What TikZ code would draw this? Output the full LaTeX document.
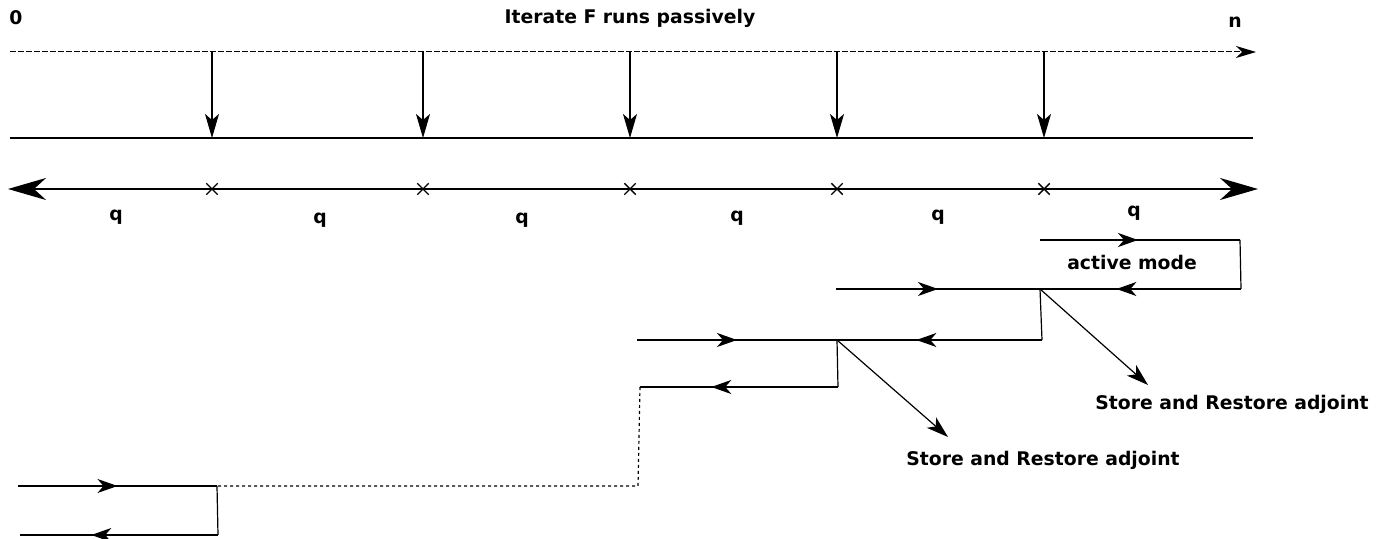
\documentclass[tikz,border=0pt]{standalone}
\usepackage{fontspec}
\setmainfont{DejaVu Sans}
\usetikzlibrary{arrows.meta,decorations.markings,shapes.misc}

\begin{document}
\begin{tikzpicture}[x=0.5pt, y=-0.5pt,
  lbl/.style={font=\fontsize{9.4}{11}\selectfont\bfseries, inner sep=0pt},
  tick/.style={draw, cross out, minimum size=5pt, inner sep=0pt, line width=0.7pt},
  flow/.style={line width=0.6pt},
  back/.style={line width=0.9pt},
  midarr/.style={postaction={decorate, decoration={markings,
      mark=at position #1 with {\arrow{Stealth[length=10pt, width=7pt, inset=3pt]}}}}},
  down/.style={line width=0.6pt, -{Stealth[length=12pt, width=7pt, inset=3pt]}},
  diag/.style={line width=0.6pt, -{Stealth[length=11pt, width=7pt, inset=3pt]}}]
\useasboundingbox (0,0) rectangle (1381,539);
% passive sweep
\node[lbl] (zero) at (16,18) {0};
\node[lbl] (title) at (630,18) {Iterate F runs passively};
\node[lbl] (n) at (1235,22) {n};
\coordinate (p0) at (10,52);
\coordinate (pn) at (1256,52);
\draw[line width=0.5pt, dashed, dash pattern=on 3pt off 1pt,
  -{Stealth[length=10pt, width=6pt, inset=3pt]}] (p0) -- (pn);
\coordinate (s0) at (10,138);
\coordinate (sn) at (1253,138);
\draw[line width=1.4pt] (s0) -- (sn);
% checkpoints
\foreach \x [count=\i] in {212,423,630,837,1044} {
  \coordinate (c\i) at (\x,52);
  \coordinate (d\i) at (\x,138);
  \draw[down] (c\i) -- (d\i);
  \node[tick] (t\i) at (\x,189) {};
}
\coordinate (a0) at (8,189);
\coordinate (an) at (1258,189);
\draw[line width=1.2pt, {Stealth[length=19pt, width=11pt, inset=6pt]}-{Stealth[length=19pt, width=11pt, inset=6pt]}] (a0) -- (an);
\foreach \x/\y [count=\i] in {116/217,320/220,522/220,737/218,938/217,1134/213}
  \node[lbl] (q\i) at (\x,\y) {q};
% active mode
\coordinate (f1) at (1040,240); \coordinate (e1) at (1240,240);
\coordinate (r1) at (1241,289); \coordinate (b1) at (1040,289);
\draw[flow, midarr=0.49] (f1) -- (e1);
\draw[flow] (e1) -- (r1);
\draw[back, midarr=0.62] (r1) -- (b1);
\node[lbl] (act) at (1132,262) {active mode};
% second level
\coordinate (f2) at (836,289);
\coordinate (r2) at (1042,340); \coordinate (b2) at (836,340);
\draw[flow, midarr=0.5] (f2) -- (b1);
\draw[flow] (b1) -- (r2);
\draw[back, midarr=0.61] (r2) -- (b2);
\node[lbl] (sr1) at (1232,404) {Store and Restore adjoint};
\coordinate (g1) at (1148,385);
\draw[diag] (b1) -- (g1);
% third level
\coordinate (f3) at (637,340); \coordinate (v3) at (837,340);
\coordinate (r3) at (838,387); \coordinate (b3) at (640,387);
\draw[flow, midarr=0.5] (f3) -- (v3);
\draw[flow] (v3) -- (r3);
\draw[back, midarr=0.64] (r3) -- (b3);
\node[lbl] (sr2) at (1043,460) {Store and Restore adjoint};
\coordinate (g2) at (948,437);
\draw[diag] (v3) -- (g2);
% skipped levels
\coordinate (k1) at (638,486); \coordinate (v4) at (217,486);
\draw[line width=0.6pt, dash pattern=on 1.5pt off 1.5pt] (b3) -- (k1) -- (v4);
% first level
\coordinate (f4) at (18,486);
\coordinate (r4) at (218,535); \coordinate (b4) at (20,535);
\draw[flow, midarr=0.5] (f4) -- (v4);
\draw[flow] (v4) -- (r4);
\draw[back, midarr=0.64] (r4) -- (b4);
\end{tikzpicture}
\end{document}
